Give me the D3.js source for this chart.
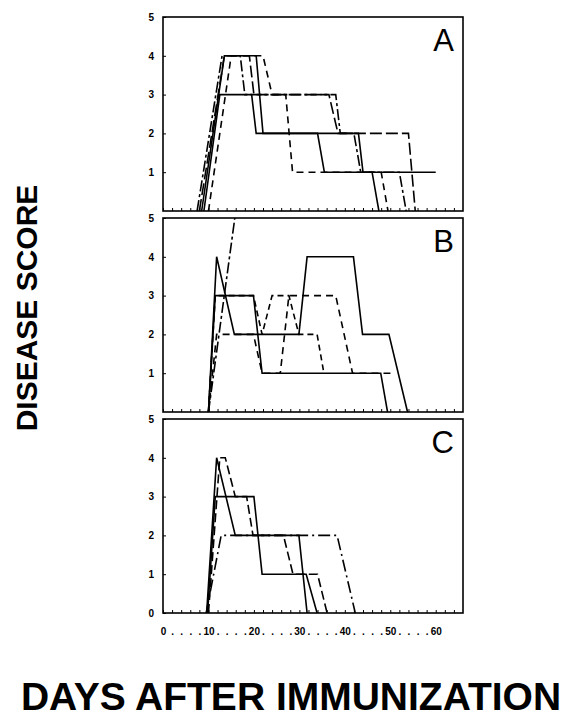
<!doctype html>
<html>
<head>
<meta charset="utf-8">
<title>Disease score after immunization</title>
<script src="https://d3js.org/d3.v7.min.js"></script>
<style>
body { margin: 0; background: white; }
svg { display: block; font-family: "Liberation Sans", Arial, sans-serif; }
.axis text { font-weight: bold; font-size: 10px; }
</style>
</head>
<body>
<div id="chart"></div>
<script>
// values: [day, score]
var panelNames = ["A", "B", "C"];
var scoreTicks = [0, 1, 2, 3, 4, 5];
var dayTicks = [0, 2, 4, 6, 8, 10, 12, 14, 16, 18, 20, 22, 24, 26, 28, 30,
  32, 34, 36, 38, 40, 42, 44, 46, 48, 50, 52, 54, 56, 58, 60, 62, 64];
var dayLabels = [0, 10, 20, 30, 40, 50, 60];

var curvesA = [
  [[8.5, 0], [13.5, 4], [20.5, 4], [22, 2], [34, 2], [35.5, 1], [60, 1]],
  [[9, 0], [12.5, 3], [19.5, 3], [20.5, 2], [43, 2], [44, 1], [46, 1], [47.5, 0]],
  [[10, 0], [15, 4], [22, 4], [24, 3], [27, 3], [28.5, 1], [48, 1], [49.5, 0]],
  [[7.5, 0], [13, 4], [17, 4], [18, 3], [38, 3], [39, 2], [42, 2], [43.5, 1], [52, 1], [53.5, 0]],
  [[8, 0], [13.5, 4], [19, 4], [20, 3], [36.5, 3], [38.5, 2], [54, 2], [55.5, 0]]
];
var curvesB = [
  [[10, 0], [11.8, 4], [15.7, 2], [29.9, 2], [31.7, 4], [41.9, 4], [43.9, 2], [49.7, 2], [53.8, 0]],
  [[10, 0], [11.5, 3], [19.9, 3], [21.8, 1], [47.9, 1], [49.4, 0]],
  [[10, 0], [11.8, 2], [19.9, 2], [21.8, 1], [25.8, 1], [27.7, 3], [38, 3], [41.7, 1], [50.5, 1]],
  [[10, 0], [15.8, 5]],
  [[10, 0], [11.5, 3], [19.9, 3], [21.8, 2], [24, 3], [27.7, 3], [29.9, 2], [33.9, 2], [35.4, 1]]
];
var curvesC = [
  [[9.6, 0], [11.8, 4], [15.9, 2], [29.9, 2], [31.7, 0]],
  [[9.8, 0], [11.5, 3], [20, 3], [21.8, 1], [31.5, 1], [33.9, 0]],
  [[10, 0], [12.5, 4], [13.7, 4], [15.9, 3], [18.4, 3], [19.8, 2], [26.5, 2], [28.6, 1], [34, 1], [36.1, 0]],
  [[9.5, 0], [12.8, 2], [38.3, 2], [42.3, 0]]
];
var panelCurves = [curvesA, curvesB, curvesC];

// line styles per curve index
var dashes = [
  ["", "", "7,5", "11,3,3,3", "12,4"],
  ["", "", "7,5", "11,3,3,3", "6,4"],
  ["", "", "9,4", "12,4,2,4"]
];

var W = 584, H = 719;
var left = 163, right = 463, panelH = 194;
var tops = [17, 218, 419];

var svg = d3.select("#chart").append("svg")
  .attr("width", W)
  .attr("height", H);

var x = d3.scaleLinear().domain([0, 66]).range([left, right]);

var line = d3.line()
  .x(function(d) { return x(d[0]); });

panelNames.forEach(function(name, i) {
  var top = tops[i];
  var y = d3.scaleLinear().domain([0, 5]).range([top + panelH, top]);
  var g = svg.append("g");

  // y axis, ticks pointing in
  var yTicks = i == 2 ? scoreTicks : scoreTicks.slice(1);
  g.append("g")
    .attr("class", "axis")
    .attr("transform", "translate(" + left + ",0)")
    .call(d3.axisLeft(y).tickValues(yTicks).tickSize(-3).tickPadding(9).tickFormat(d3.format("d")))
    .call(function(a) { a.select(".domain").remove(); });

  // x axis
  var xAxis = d3.axisBottom(x).tickValues(dayTicks).tickSize(-3).tickPadding(15)
    .tickFormat(function(d) {
      if (i < 2 || d > 60) return "";
      return dayLabels.indexOf(d) >= 0 ? d : ".";
    });
  g.append("g")
    .attr("class", "axis")
    .attr("transform", "translate(0," + (top + panelH) + ")")
    .call(xAxis)
    .call(function(a) { a.select(".domain").remove(); });

  // curves
  line.y(function(d) { return y(d[1]); });
  g.selectAll("path.curve")
    .data(panelCurves[i])
    .enter().append("path")
    .attr("class", "curve")
    .attr("d", line)
    .attr("fill", "none")
    .attr("stroke", "black")
    .attr("stroke-width", 1.6)
    .attr("stroke-dasharray", function(d, j) { return dashes[i][j]; });

  // frame
  g.append("rect")
    .attr("x", left)
    .attr("y", top)
    .attr("width", right - left)
    .attr("height", panelH)
    .attr("fill", "none")
    .attr("stroke", "black")
    .attr("stroke-width", 1.6);

  g.append("text")
    .attr("x", right - 9)
    .attr("y", top + 34)
    .attr("text-anchor", "end")
    .attr("font-size", "31px")
    .text(name);
});

svg.append("text")
  .attr("transform", "translate(37,308) rotate(-90)")
  .attr("text-anchor", "middle")
  .attr("font-weight", "bold")
  .attr("font-size", "30px")
  .text("DISEASE SCORE");

svg.append("text")
  .attr("x", 291)
  .attr("y", 710)
  .attr("text-anchor", "middle")
  .attr("font-weight", "bold")
  .attr("font-size", "39px")
  .text("DAYS AFTER IMMUNIZATION");
</script>
</body>
</html>
